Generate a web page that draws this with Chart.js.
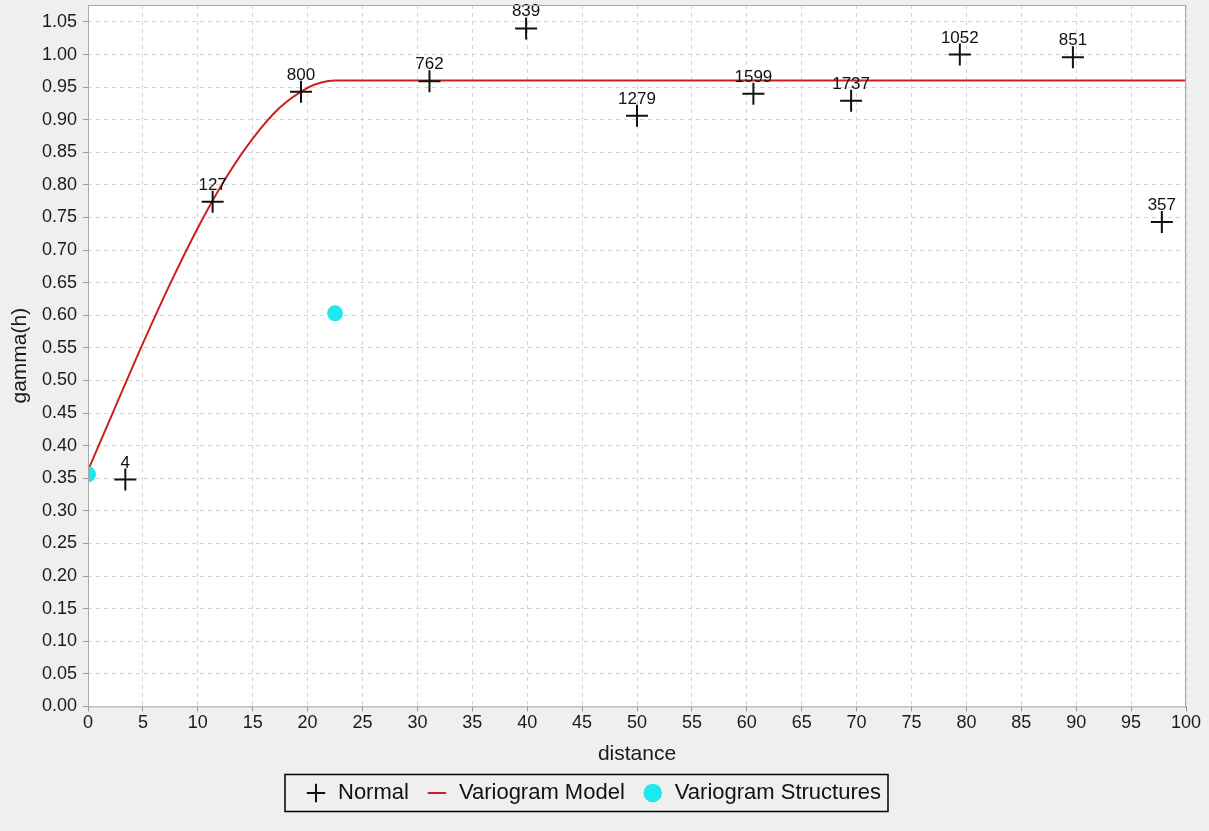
<!DOCTYPE html>
<html>
<head>
<meta charset="utf-8">
<script src="https://cdn.jsdelivr.net/npm/chart.js@4.4.1/dist/chart.umd.min.js"></script>
<style>
  html, body { margin: 0; padding: 0; background: #efefef; }
  #wrap { width: 1209px; height: 831px; }
</style>
</head>
<body>
<div id="wrap"><canvas id="myChart" width="1209" height="831"></canvas></div>
<script>
// semivariogramma sperimentale: distanza di lag, gamma e numero di coppie
var lagDistance = [3.4, 11.35, 19.4, 31.1, 39.9, 50.0, 60.6, 69.5, 79.4, 89.7, 97.8];
var lagGamma    = [0.348, 0.774, 0.943, 0.959, 1.040, 0.906, 0.940, 0.929, 1.000, 0.996, 0.743];
var lagPairs    = [4, 127, 800, 762, 839, 1279, 1599, 1737, 1052, 851, 357];

// curva del modello (letta punto per punto)
var modelDistance = [0, 2.5, 5, 7.5, 10, 12.5, 15, 17.5, 20, 21.25, 22.5, 100];
var modelGamma    = [0.362, 0.460, 0.557, 0.649, 0.734, 0.809, 0.871, 0.919, 0.949, 0.957, 0.960, 0.960];

// strutture del variogramma
var structDistance = [0, 22.5];
var structGamma    = [0.356, 0.603];

function toXY(xs, ys){
  var out = [];
  for (var i = 0; i < xs.length; i++) {
    out.push({x: xs[i], y: ys[i]});
  }
  return out;
}

var font = "'Liberation Sans', Arial, sans-serif";

// etichette con il numero di coppie sopra ogni croce
var pairLabels = {
  id: 'pairLabels',
  afterDatasetsDraw: function(chart){
    var ctx = chart.ctx;
    var meta = chart.getDatasetMeta(0);
    ctx.save();
    ctx.font = '17px ' + font;
    ctx.fillStyle = '#111';
    ctx.textAlign = 'center';
    ctx.textBaseline = 'alphabetic';
    for (var i = 0; i < meta.data.length; i++) {
      var p = meta.data[i];
      ctx.fillText(String(lagPairs[i]), p.x, p.y - 12);
    }
    ctx.restore();
  }
};

// sfondo bianco dell'area del grafico + cornice e bordo della legenda
var plotFrame = {
  id: 'plotFrame',
  beforeDraw: function(chart){
    var a = chart.chartArea, ctx = chart.ctx;
    ctx.save();
    ctx.fillStyle = '#ffffff';
    ctx.fillRect(a.left, a.top, a.right - a.left, a.bottom - a.top);
    ctx.restore();
  },
  afterDraw: function(chart){
    var a = chart.chartArea, ctx = chart.ctx;
    ctx.save();
    ctx.strokeStyle = '#a8a8a8';
    ctx.lineWidth = 1;
    ctx.strokeRect(a.left + 0.5, a.top + 0.5, a.right - a.left - 1, a.bottom - a.top);

    var boxes = chart.legend.legendHitBoxes;
    var first = boxes[0], last = boxes[boxes.length - 1];
    var cy = first.top + first.height / 2;
    var x0 = first.left - 20;
    var x1 = last.left + last.width + 7;
    ctx.strokeStyle = '#000';
    ctx.lineWidth = 1.5;
    ctx.strokeRect(x0, cy - 18.5, x1 - x0, 37);
    ctx.restore();
  }
};

var ctx = document.getElementById('myChart').getContext('2d');
var myChart = new Chart(ctx, {
  type: 'scatter',
  data: {
    datasets: [{
      label: 'Normal',
      data: toXY(lagDistance, lagGamma),
      pointStyle: 'cross',
      pointRadius: 11,
      pointBorderWidth: 2,
      borderColor: '#111',
      backgroundColor: '#111',
      showLine: false,
      order: 1
    }, {
      label: 'Variogram Model',
      data: toXY(modelDistance, modelGamma),
      showLine: true,
      borderColor: '#cc1f1f',
      backgroundColor: '#cc1f1f',
      borderWidth: 2,
      pointRadius: 0,
      pointStyle: 'line',
      cubicInterpolationMode: 'monotone',
      order: 2
    }, {
      label: 'Variogram Structures',
      data: toXY(structDistance, structGamma),
      pointStyle: 'circle',
      pointRadius: 8,
      borderWidth: 0,
      borderColor: '#1de8ee',
      backgroundColor: '#1de8ee',
      showLine: false,
      order: 0
    }]
  },
  options: {
    responsive: false,
    animation: false,
    layout: { autoPadding: false, padding: { top: 5, right: 23, left: 0, bottom: 17 } },
    plugins: {
      tooltip: { enabled: false },
      legend: {
        position: 'bottom',
        labels: {
          usePointStyle: true,
          boxHeight: 13,
          color: '#111',
          padding: 17,
          font: { family: font, size: 22 },
          sort: function(a, b){ return a.datasetIndex - b.datasetIndex; }
        }
      }
    },
    scales: {
      x: {
        type: 'linear',
        min: 0,
        max: 100,
        ticks: {
          stepSize: 5,
          color: '#1a1a1a',
          font: { family: font, size: 18 },
          padding: 1,
          maxRotation: 0
        },
        grid: {
          color: '#d4d4d4',
          tickLength: 5,
          tickColor: '#999',
          tickBorderDash: [1, 0]
        },
        border: { display: false, dash: [4, 4] },
        title: {
          display: true,
          text: 'distance',
          color: '#1a1a1a',
          font: { family: font, size: 21, lineHeight: 1 },
          padding: { top: 9, bottom: 0 }
        }
      },
      y: {
        type: 'linear',
        min: 0,
        max: 1.076,
        afterFit: function(scale){
          scale.width = 88;
          scale.paddingTop = 0;
          scale.paddingBottom = 0;
        },
        ticks: {
          stepSize: 0.05,
          includeBounds: false,
          color: '#1a1a1a',
          font: { family: font, size: 18 },
          padding: 6,
          callback: function(v){ return v.toFixed(2); }
        },
        grid: {
          color: '#d4d4d4',
          tickLength: 5,
          tickColor: '#999',
          tickBorderDash: [1, 0]
        },
        border: { display: false, dash: [4, 4] },
        title: {
          display: true,
          text: 'gamma(h)',
          color: '#1a1a1a',
          font: { family: font, size: 21 },
          padding: { top: 8, bottom: 0 }
        }
      }
    }
  },
  plugins: [plotFrame, pairLabels]
});
</script>
</body>
</html>
